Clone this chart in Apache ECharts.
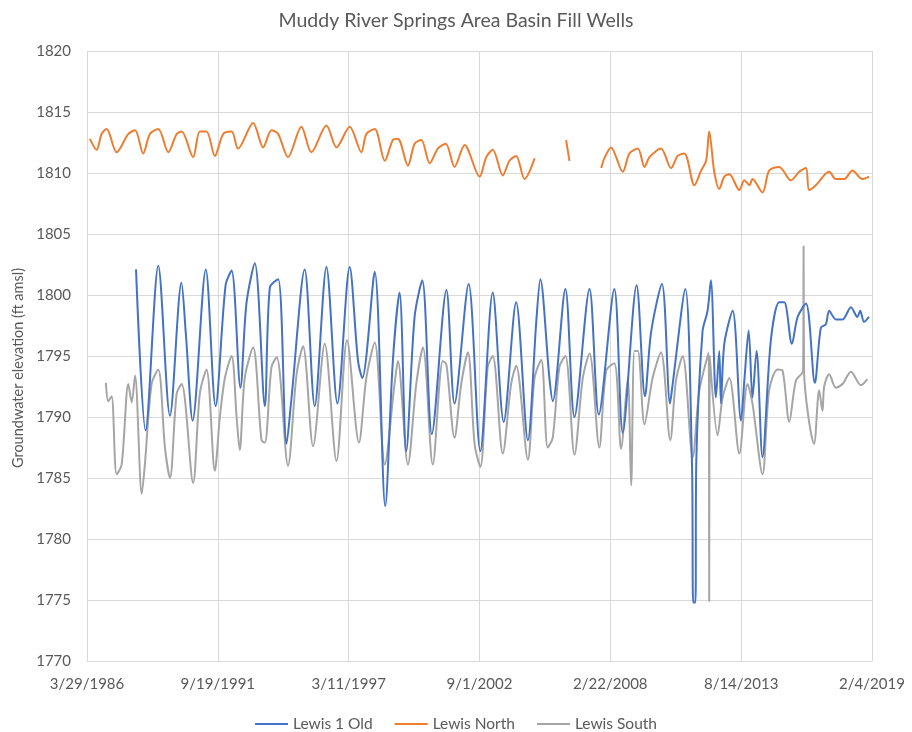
<!DOCTYPE html>
<html>
<head>
<meta charset="utf-8">
<script src="https://cdn.jsdelivr.net/npm/echarts@6/dist/echarts.min.js"></script>
<style>
html,body{margin:0;padding:0;background:#fff;}
#chart{width:912px;height:732px;}
</style>
</head>
<body>
<div id="chart"></div>
<script>
// x-axis tick labels (Excel date axis, major unit 2000 days)
const xTickLabels = ['3/29/1986','9/19/1991','3/11/1997','9/1/2002','2/22/2008','8/14/2013','2/4/2019'];
const yTicks = [1770,1775,1780,1785,1790,1795,1800,1805,1810,1815,1820];
const seriesNames = ['Lewis 1 Old','Lewis North','Lewis South'];

// [decimal year, groundwater elevation ft amsl]
const lewis1Old = [
[1988.29,1802.1],[1988.69,1788.9],[1989.22,1802.4],[1989.71,1790.1],[1990.19,1801.0],[1990.38,1796.7],
[1990.66,1789.7],[1991.21,1802.1],[1991.62,1790.9],[1992.04,1800.8],[1992.29,1802.0],[1992.66,1792.4],
[1992.91,1799.3],[1993.26,1802.6],[1993.68,1790.9],[1993.89,1800.6],[1994.24,1801.3],[1994.59,1787.8],
[1994.80,1791.6],[1995.35,1802.1],[1995.77,1790.9],[1996.26,1802.3],[1996.72,1791.1],[1997.23,1802.3],
[1997.58,1794.6],[1997.76,1793.2],[1998.28,1801.9],[1998.72,1782.7],[1999.04,1794.6],[1999.32,1800.2],
[1999.60,1787.2],[1999.95,1798.2],[2000.27,1801.2],[2000.67,1788.6],[2001.28,1800.4],[2001.62,1791.1],
[2002.21,1800.9],[2002.70,1787.2],[2003.22,1800.2],[2003.68,1789.6],[2004.20,1799.4],[2004.69,1788.1],
[2005.04,1797.8],[2005.21,1801.3],[2005.59,1793.2],[2005.73,1791.3],[2006.26,1800.5],[2006.64,1790.0],
[2007.27,1800.5],[2007.66,1790.2],[2008.31,1800.5],[2008.66,1788.7],[2009.24,1800.8],[2009.59,1791.7],
[2009.85,1797.0],[2010.30,1800.9],[2010.64,1791.1],[2010.75,1792.7],[2011.28,1800.5],[2011.56,1786.1],
[2011.61,1774.8],[2011.70,1774.8],[2011.74,1786.4],[2012.00,1797.0],[2012.21,1798.7],[2012.35,1801.2],
[2012.56,1791.6],[2012.70,1795.4],[2012.77,1791.1],[2012.91,1796.0],[2013.26,1798.7],[2013.61,1789.7],
[2013.75,1793.0],[2013.93,1797.1],[2014.09,1791.6],[2014.26,1795.4],[2014.51,1786.7],[2014.86,1796.3],
[2015.21,1799.4],[2015.42,1799.4],[2015.74,1796.0],[2015.98,1798.2],[2016.33,1799.3],[2016.70,1792.8],
[2016.95,1797.3],[2017.16,1797.6],[2017.30,1798.7],[2017.58,1798.0],[2017.86,1798.0],[2018.21,1799.0],
[2018.48,1798.2],[2018.60,1798.7],[2018.76,1797.8],[2018.97,1798.2]
];

const lewisNorth = [
[1986.36,1812.8],[1986.64,1811.9],[1986.85,1813.2],[1987.06,1813.6],[1987.48,1811.7],[1987.97,1813.2],
[1988.25,1813.5],[1988.59,1811.6],[1988.87,1813.2],[1989.22,1813.6],[1989.64,1811.7],[1989.99,1813.2],
[1990.20,1813.4],[1990.68,1811.3],[1990.96,1813.4],[1991.24,1813.4],[1991.59,1811.4],[1991.94,1813.2],
[1992.29,1813.4],[1992.56,1812.0],[1993.19,1814.1],[1993.61,1812.1],[1993.96,1813.5],[1994.24,1813.2],
[1994.65,1811.3],[1995.21,1813.8],[1995.63,1811.7],[1996.26,1813.9],[1996.68,1812.1],[1997.23,1813.8],
[1997.72,1811.7],[1997.93,1813.2],[1998.28,1813.6],[1998.70,1811.0],[1999.04,1812.7],[1999.25,1812.8],
[1999.67,1810.6],[1999.95,1812.4],[2000.23,1812.7],[2000.58,1810.8],[2000.92,1812.0],[2001.25,1812.4],
[2001.62,1810.5],[2002.04,1812.3],[2002.67,1809.7],[2002.95,1811.3],[2003.22,1811.9],[2003.64,1809.8],
[2003.92,1811.0],[2004.20,1811.4],[2004.55,1809.5],[2004.97,1811.2],[2005.50,null],
[2006.29,1812.7],[2006.43,1811.0],[2007.00,null],
[2007.76,1810.4],[2007.89,1811.2],[2008.17,1812.1],[2008.66,1810.1],[2008.94,1811.6],[2009.29,1812.0],
[2009.57,1810.5],[2009.78,1811.3],[2010.26,1812.0],[2010.68,1810.4],[2010.96,1811.4],[2011.24,1811.6],
[2011.66,1809.0],[2011.94,1810.2],[2012.15,1811.0],[2012.28,1813.4],[2012.49,1810.1],[2012.70,1808.7],
[2012.91,1809.7],[2013.12,1809.9],[2013.54,1808.6],[2013.75,1809.4],[2013.96,1809.0],[2014.09,1809.5],
[2014.51,1808.4],[2014.79,1810.2],[2015.21,1810.5],[2015.70,1809.4],[2016.05,1810.1],[2016.33,1810.4],
[2016.46,1808.6],[2016.74,1809.0],[2017.30,1810.1],[2017.58,1809.5],[2017.93,1809.5],[2018.27,1810.2],
[2018.69,1809.5],[2018.97,1809.7]
];

const lewisSouth = [
[1987.03,1792.8],[1987.13,1791.3],[1987.27,1791.7],[1987.48,1785.3],[1987.69,1786.1],[1987.97,1792.7],
[1988.11,1791.2],[1988.25,1793.4],[1988.53,1783.7],[1988.66,1786.1],[1988.94,1792.7],[1989.22,1793.9],
[1989.50,1787.5],[1989.71,1785.0],[1989.99,1791.9],[1990.20,1792.7],[1990.68,1784.6],[1990.96,1791.9],
[1991.24,1793.9],[1991.59,1785.6],[1991.80,1790.0],[1992.01,1793.2],[1992.29,1795.0],[1992.50,1790.0],
[1992.63,1787.3],[1992.84,1793.2],[1993.19,1795.7],[1993.54,1788.1],[1993.68,1787.9],[1993.96,1794.1],
[1994.18,1794.9],[1994.65,1786.0],[1995.01,1793.5],[1995.28,1795.8],[1995.70,1787.6],[1996.19,1796.0],
[1996.68,1786.4],[1997.12,1796.3],[1997.62,1787.9],[1997.93,1793.2],[1998.28,1796.1],[1998.70,1786.1],
[1999.11,1792.7],[1999.25,1794.6],[1999.67,1786.1],[2000.02,1792.7],[2000.30,1795.7],[2000.71,1786.1],
[2001.13,1794.6],[2001.28,1794.3],[2001.62,1788.3],[2001.90,1792.7],[2002.18,1795.3],[2002.46,1787.8],
[2002.70,1785.9],[2003.01,1794.1],[2003.22,1795.0],[2003.64,1787.0],[2003.99,1792.7],[2004.20,1794.2],
[2004.69,1786.5],[2004.97,1793.2],[2005.25,1794.7],[2005.52,1787.5],[2005.73,1788.3],[2006.01,1794.1],
[2006.26,1795.0],[2006.64,1786.9],[2006.99,1793.2],[2007.27,1795.2],[2007.68,1787.5],[2007.97,1793.8],
[2008.31,1794.4],[2008.59,1787.4],[2008.87,1793.2],[2009.01,1784.4],[2009.15,1795.4],[2009.29,1795.4],
[2009.57,1789.4],[2009.91,1793.2],[2010.26,1795.3],[2010.65,1788.1],[2010.89,1793.0],[2011.17,1795.0],
[2011.59,1786.7],[2011.87,1792.2],[2012.26,1795.3],[2012.28,1774.9],[2012.30,1795.0],[2012.63,1788.5],
[2012.84,1791.6],[2013.12,1793.2],[2013.54,1787.0],[2013.88,1792.7],[2014.09,1791.1],[2014.51,1785.3],
[2014.79,1792.2],[2015.14,1793.9],[2015.35,1793.8],[2015.63,1789.6],[2015.91,1793.0],[2016.21,1793.8],
[2016.23,1804.0],[2016.25,1793.8],[2016.67,1787.8],[2016.88,1792.2],[2017.02,1790.5],[2017.09,1792.5],
[2017.30,1793.5],[2017.58,1792.4],[2017.86,1792.7],[2018.21,1793.7],[2018.63,1792.6],[2018.90,1793.1]
];

const T0 = Date.UTC(1986, 2, 29);
const DAY = 86400000;
function yearToDay(y) {
  const yr = Math.floor(y);
  const s = Date.UTC(yr, 0, 1), e = Date.UTC(yr + 1, 0, 1);
  return (s + (y - yr) * (e - s) - T0) / DAY;
}
function toXY(arr) { return arr.map(p => [yearToDay(p[0]), p[1]]); }
function dayLabel(d) {
  const dt = new Date(T0 + Math.round(d) * DAY);
  return (dt.getUTCMonth() + 1) + '/' + dt.getUTCDate() + '/' + dt.getUTCFullYear();
}

const FONT = 'Lato, "Open Sans", sans-serif';
const TXT = '#595959';
const GRID = '#D9D9D9';
const colors = ['#4472C4', '#ED7D31', '#A5A5A5'];

const chart = echarts.init(document.getElementById('chart'), null, {renderer: 'canvas'});
chart.setOption({
  animation: false,
  backgroundColor: '#fff',
  color: colors,
  textStyle: {fontFamily: FONT},
  title: {
    text: 'Muddy River Springs Area Basin Fill Wells',
    left: 'center', top: 6,
    textStyle: {fontFamily: FONT, fontSize: 19.5, fontWeight: 'normal', color: TXT}
  },
  grid: {left: 87, right: 40, top: 51, bottom: 71, containLabel: false},
  legend: {
    top: 711, left: 'center',
    icon: 'rect', itemWidth: 33, itemHeight: 2, itemGap: 22,
    textStyle: {fontFamily: FONT, fontSize: 15.5, color: TXT},
    data: seriesNames
  },
  graphic: [{
    type: 'text', x: 18, y: 368, rotation: Math.PI / 2,
    style: {
      text: 'Groundwater elevation (ft amsl)',
      font: '14.5px Lato, "Open Sans", sans-serif',
      fill: TXT, align: 'center', verticalAlign: 'middle'
    }
  }],
  xAxis: {
    type: 'value', min: 0, max: 12000, interval: 2000,
    axisLine: {show: true, lineStyle: {color: GRID, width: 1}},
    axisTick: {show: false},
    splitLine: {show: true, lineStyle: {color: GRID, width: 1}},
    axisLabel: {
      margin: 16, fontFamily: FONT, fontSize: 15, color: TXT,
      formatter: v => xTickLabels[Math.round(v / 2000)] || dayLabel(v),
      showMinLabel: true, showMaxLabel: true
    }
  },
  yAxis: {
    type: 'value', min: yTicks[0], max: yTicks[yTicks.length - 1], interval: 5,
    axisLine: {show: false},
    axisTick: {show: false},
    splitLine: {show: true, lineStyle: {color: GRID, width: 1}},
    axisLabel: {margin: 16, fontFamily: FONT, fontSize: 15, color: TXT, formatter: v => String(v)}
  },
  series: [
    {name: seriesNames[0], type: 'line', data: toXY(lewis1Old), showSymbol: false, symbol: 'none',
     smooth: 0.3, lineStyle: {width: 2, color: colors[0]}, z: 3},
    {name: seriesNames[1], type: 'line', data: toXY(lewisNorth), showSymbol: false, symbol: 'none',
     smooth: 0.3, connectNulls: false, lineStyle: {width: 2, color: colors[1]}, z: 3},
    {name: seriesNames[2], type: 'line', data: toXY(lewisSouth), showSymbol: false, symbol: 'none',
     smooth: 0.3, lineStyle: {width: 2, color: colors[2]}, z: 2}
  ]
});
</script>
</body>
</html>
